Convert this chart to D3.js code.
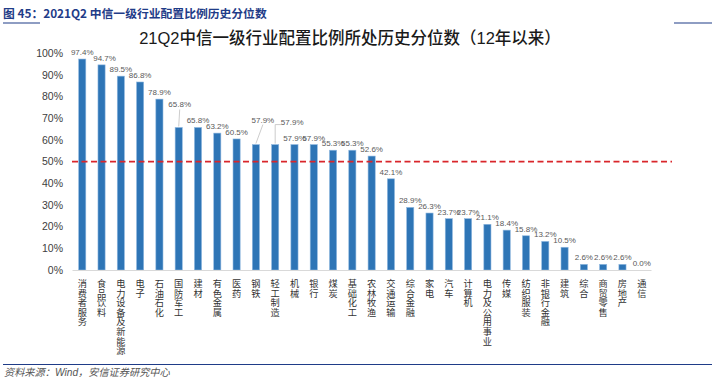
<!DOCTYPE html>
<html>
<head>
<meta charset="utf-8">
<script src="https://cdn.jsdelivr.net/npm/d3@7"></script>
<style>
  body { margin: 0; background: #fff; }
  svg { display: block; font-family: "Liberation Sans", Arial, "Noto Sans CJK SC", sans-serif; }
  .tick-label { font-size: 10.5px; fill: #404040; }
  .val-label { font-size: 8px; fill: #595959; }
  .cat-label { font-size: 9.2px; fill: #333; font-family: "Noto Sans CJK SC", sans-serif; }
</style>
</head>
<body>
<div id="graph"></div>
<script>
const width = 718;
const height = 381;

const categories = ['消费者服务','食品饮料','电力设备及新能源','电子','石油石化','国防军工','建材','有色金属','医药','钢铁',
  '轻工制造','机械','银行','煤炭','基础化工','农林牧渔','交通运输','综合金融','家电','汽车',
  '计算机','电力及公用事业','传媒','纺织服装','非银行金融','建筑','综合','商贸零售','房地产','通信'];
const values = [97.4, 94.7, 89.5, 86.8, 78.9, 65.8, 65.8, 63.2, 60.5, 57.9,
  57.9, 57.9, 57.9, 55.3, 55.3, 52.6, 42.1, 28.9, 26.3, 23.7,
  23.7, 21.1, 18.4, 15.8, 13.2, 10.5, 2.6, 2.6, 2.6, 0.0];
const yTicks = [0, 10, 20, 30, 40, 50, 60, 70, 80, 90, 100];
const threshold = 50;

// label nudges for crowded value labels (dx, dy), some with leader lines
const nudges = {
  1: {dx: 3, dy: 0},
  5: {dx: 1, dy: -16, leader: true},
  9: {dx: 7, dy: -18, leader: true},
  10: {dx: 17, dy: -16, leader: true, elbow: true}
};

const x = d3.scaleBand().domain(categories).range([72.5, 651.5]).paddingInner(0.63).paddingOuter(0.32);
const y = d3.scaleLinear().domain([0, 100]).range([270, 53.4]);

const svg = d3.select('#graph').append('svg').attr('width', width).attr('height', height);

// header
svg.append('text')
  .attr('x', 3).attr('y', 18)
  .attr('fill', '#1f3c88')
  .style('font-family', '"Noto Sans CJK SC", sans-serif')
  .style('font-weight', 700)
  .style('font-size', '11.8px')
  .text('图 45：2021Q2 中信一级行业配置比例历史分位数');
svg.append('line').attr('x1', 3).attr('x2', 40).attr('y1', 23).attr('y2', 23)
  .attr('stroke', '#1f3c88').attr('stroke-width', 1.2);
svg.append('line').attr('x1', 674).attr('x2', 712).attr('y1', 23).attr('y2', 23)
  .attr('stroke', '#1f3c88').attr('stroke-width', 1.2);

// title
svg.append('text')
  .attr('x', 350).attr('y', 44)
  .attr('text-anchor', 'middle')
  .attr('fill', '#1a1a1a')
  .style('font-size', '16.5px')
  .style('font-weight', 500)
  .text('21Q2中信一级行业配置比例所处历史分位数（12年以来）');

// y tick labels
svg.append('g').selectAll('text').data(yTicks).enter().append('text')
  .attr('class', 'tick-label')
  .attr('x', 63)
  .attr('y', d => y(d) + 3.5)
  .attr('text-anchor', 'end')
  .text(d => d + '%');

// bars
svg.append('g').selectAll('rect').data(values).enter().append('rect')
  .attr('x', (d, i) => x(categories[i]))
  .attr('y', d => y(d))
  .attr('width', x.bandwidth())
  .attr('height', d => y(0) - y(d))
  .attr('fill', '#2e75b6')
  .attr('stroke', '#8fb8e0')
  .attr('stroke-width', 0.6);

// x axis line
svg.append('line')
  .attr('x1', 72.5).attr('x2', 651.5).attr('y1', 270.5).attr('y2', 270.5)
  .attr('stroke', '#d9d9d9').attr('stroke-width', 1);

// threshold line
svg.append('line')
  .attr('x1', 72).attr('x2', 672).attr('y1', y(threshold)).attr('y2', y(threshold))
  .attr('stroke', '#d9262b').attr('stroke-width', 1.8)
  .attr('stroke-dasharray', '6,3.5');

// leader lines
const cx = i => x(categories[i]) + x.bandwidth() / 2;
Object.keys(nudges).forEach(k => {
  const i = +k, n = nudges[k];
  if (!n.leader) return;
  const x0 = cx(i), y0 = y(values[i]) - 1;
  const ly = y(values[i]) - 4 + n.dy;
  const pts = n.elbow
    ? [[x0, y0], [x0, ly], [x0 + n.dx - 11, ly]]
    : [[x0, y0], [x0 + n.dx, ly + 2]];
  svg.append('path')
    .attr('d', d3.line()(pts))
    .attr('fill', 'none')
    .attr('stroke', '#bfbfbf')
    .attr('stroke-width', 0.8);
});

// value labels
svg.append('g').selectAll('text').data(values).enter().append('text')
  .attr('class', 'val-label')
  .attr('x', (d, i) => cx(i) + (nudges[i] ? nudges[i].dx : 0))
  .attr('y', (d, i) => y(d) - 4 + (nudges[i] ? nudges[i].dy : 0))
  .attr('text-anchor', 'middle')
  .text(d => d.toFixed(1) + '%');

// category labels, vertical stacked characters
const cats = svg.append('g').selectAll('text').data(categories).enter().append('text')
  .attr('class', 'cat-label')
  .attr('text-anchor', 'middle');
cats.selectAll('tspan').data((d, i) => Array.from(d).map(ch => ({ch, i}))).enter().append('tspan')
  .attr('x', d => cx(d.i))
  .attr('y', (d, j) => 287 + j * 9.6)
  .text(d => d.ch);

// footer
svg.append('line').attr('x1', 3).attr('x2', 712).attr('y1', 364.5).attr('y2', 364.5)
  .attr('stroke', '#1f3c88').attr('stroke-width', 1.2);
svg.append('text')
  .attr('x', 4).attr('y', 376)
  .attr('fill', '#555')
  .style('font-size', '10.2px')
  .style('font-style', 'italic')
  .text('资料来源：Wind，安信证券研究中心');
</script>
</body>
</html>
